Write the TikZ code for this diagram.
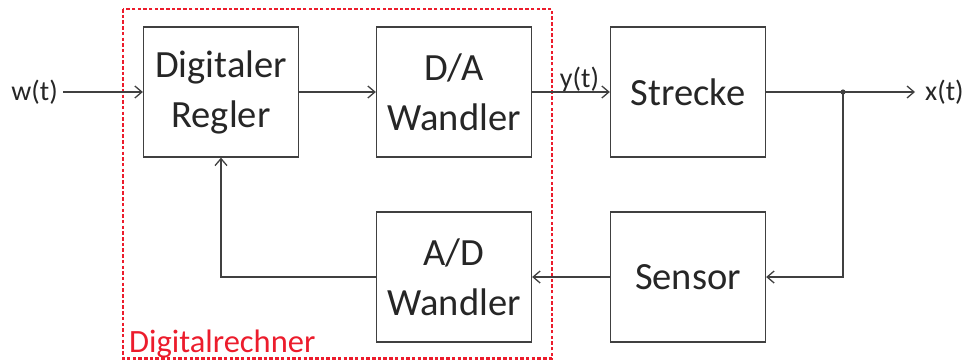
\documentclass[tikz,border=0pt]{standalone}
\usepackage{fontspec}
\setmainfont{Carlito}
\usetikzlibrary{arrows.meta}
\definecolor{linegray}{HTML}{404040}
\definecolor{textgray}{HTML}{262626}
\definecolor{rechnerred}{HTML}{EC1C2C}
\begin{document}
\begin{tikzpicture}[x=1pt,y=-1pt,
  block/.style={draw=linegray, line width=1.3pt, minimum width=155pt, minimum height=130pt,
    inner sep=0pt, align=center, text=textgray,
    font=\fontsize{38.5}{50}\selectfont},
  sig/.style={text=textgray, inner sep=0pt, font=\fontsize{28}{32}\selectfont},
  conn/.style={draw=linegray, line width=1.3pt},
  arr/.style={conn, -{Straight Barb[length=7pt,width=12pt]}}]
\useasboundingbox (0,0) rectangle (967,360);

% blocks
\node[block] (regler) at (221,92)  {Digitaler\\Regler};
\node[block] (da)     at (454,92)  {D/A\\Wandler};
\node[block] (strecke) at (688,92) {Strecke};
\node[block] (ad)     at (454,277) {A/D\\Wandler};
\node[block] (sensor) at (688,277) {Sensor};

% digital computer boundary
\draw[rechnerred, line width=2.6pt, dash pattern=on 3.5pt off 2.2pt]
  (123,9) rectangle (552,358.5);
\node[anchor=base west, inner sep=0pt, text=rechnerred,
  font=\fontsize{32.5}{36}\selectfont] (rechner) at (129,352) {Digitalrechner};

% signals
\node[sig, anchor=east] (w) at (58,92) {w(t)};
\node[sig, anchor=west] (x) at (925,92) {x(t)};
\coordinate (xend) at (915,92);
\node[sig, anchor=base] (y) at (579.5,87) {y(t)};
\coordinate (branch) at (843,92);

\draw[arr] (w.east) ++(5,0) -- (regler.west);
\draw[arr] (regler.east) -- (da.west);
\draw[arr] (da.east) -- (strecke.west);
\draw[arr] (strecke.east) -- (xend);
\draw[arr] (branch) |- (sensor.east);
\draw[arr] (sensor.west) -- (ad.east);
\draw[arr] (ad.west) -| (regler.south);
\fill[linegray] (branch) circle (2.6pt);
\end{tikzpicture}
\end{document}
